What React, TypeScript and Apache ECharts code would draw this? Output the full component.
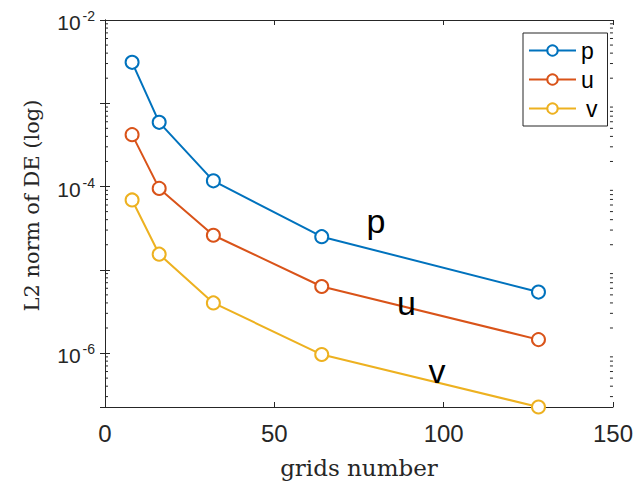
import React, { useEffect, useRef } from "react";
import * as echarts from "echarts";

// Grid sizes and the L2 norm of the discretisation error for each field
const gridSizes = [8, 16, 32, 64, 128];
const pError = [3.1e-3, 5.9e-4, 1.17e-4, 2.5e-5, 5.4e-6];
const uError = [4.2e-4, 9.5e-5, 2.6e-5, 6.3e-6, 1.45e-6];
const vError = [6.9e-5, 1.54e-5, 4.0e-6, 9.6e-7, 2.25e-7];

// In-plot annotations: [grid size, error level, text]
const annotations: [number, number, string][] = [
  [80, 3.87e-5, "p"],
  [89, 4.0e-6, "u"],
  [98, 6.1e-7, "v"],
];

const seriesNames = ["p", "u", "v"];
const seriesColors = ["#0072BD", "#D95319", "#EDB120"];

const X_MIN = 0;
const X_MAX = 150;
const X_STEP = 50;
const Y_MIN = 2.25e-7;
const Y_MAX = 1e-2;

const AXIS_COLOR = "#262626";
const SANS = "Liberation Sans, Arial, sans-serif";
const SERIF = "DejaVu Serif, serif";

export default function App() {
  const ref = useRef<HTMLDivElement>(null);

  useEffect(() => {
    if (!ref.current) return;
    const chart = echarts.init(ref.current, null, { renderer: "svg" });

    const yLabel = (v: number) => {
      const e = Math.log10(v);
      const r = Math.round(e);
      if (Math.abs(e - r) > 1e-6 || r % 2 !== 0) return "";
      return `{b|10}{s|${r}}`;
    };

    const valueSets = [pError, uError, vError];
    const series = valueSets.map((vals, i) => ({
      name: seriesNames[i],
      type: "line",
      data: gridSizes.map((g, j) => [g, vals[j]]),
      symbol: "emptyCircle",
      symbolSize: 13,
      showSymbol: true,
      clip: false,
      lineStyle: { color: seriesColors[i], width: 2 },
      itemStyle: { color: seriesColors[i], borderColor: seriesColors[i], borderWidth: 2 },
      markPoint: {
        symbol: "circle",
        symbolSize: 0,
        silent: true,
        data: [
          {
            coord: [annotations[i][0], annotations[i][1]],
            label: {
              show: true,
              position: "inside",
              formatter: annotations[i][2],
              fontSize: 34,
              fontFamily: SANS,
              color: "#000",
            },
          },
        ],
      },
    }));

    chart.setOption({
      animation: false,
      backgroundColor: "#fff",
      grid: { left: 105, right: 21, top: 20, bottom: 78 },
      legend: {
        data: seriesNames,
        orient: "vertical",
        left: 523,
        top: 33,
        padding: [6, 10, 6, 5],
        itemWidth: 47,
        itemHeight: 13,
        itemGap: 6,
        borderColor: AXIS_COLOR,
        borderWidth: 1,
        backgroundColor: "#fff",
        formatter: (name: string) => (name === "v" ? `{pad|${name}}` : name),
        textStyle: {
          fontSize: 23,
          fontFamily: SANS,
          color: "#000",
          rich: {
            pad: { fontSize: 23, fontFamily: SANS, color: "#000", padding: [0, 0, 0, 5] },
          },
        },
      },
      xAxis: [
        {
          type: "value",
          position: "bottom",
          min: X_MIN,
          max: X_MAX,
          interval: X_STEP,
          axisLine: { show: true, lineStyle: { color: AXIS_COLOR, width: 1 } },
          axisTick: { show: true, inside: true, length: 5, lineStyle: { color: AXIS_COLOR } },
          axisLabel: { fontSize: 24, fontFamily: SANS, color: AXIS_COLOR, margin: 14 },
          splitLine: { show: false },
          name: "grids number",
          nameLocation: "middle",
          nameGap: 49,
          nameTextStyle: { fontFamily: SERIF, fontSize: 23, color: AXIS_COLOR },
        },
        {
          type: "value",
          position: "top",
          min: X_MIN,
          max: X_MAX,
          interval: X_STEP,
          axisLine: { show: true, lineStyle: { color: AXIS_COLOR, width: 1 } },
          axisTick: { show: true, inside: true, length: 5, lineStyle: { color: AXIS_COLOR } },
          axisLabel: { show: false },
          splitLine: { show: false },
        },
      ],
      yAxis: [
        {
          type: "log",
          logBase: 10,
          position: "left",
          min: Y_MIN,
          max: Y_MAX,
          axisLine: { show: true, lineStyle: { color: AXIS_COLOR, width: 1 } },
          axisTick: { show: true, inside: true, length: 5, lineStyle: { color: AXIS_COLOR } },
          axisLabel: {
            margin: 10,
            formatter: yLabel,
            showMinLabel: false,
            rich: {
              b: { fontSize: 21, fontFamily: SANS, color: AXIS_COLOR, lineHeight: 22, padding: [5, 0, 0, 0] },
              s: { fontSize: 14, fontFamily: SANS, color: AXIS_COLOR, verticalAlign: "top", lineHeight: 22, padding: [0, 0, 0, 2] },
            },
          },
          splitLine: { show: false },
          name: "L2 norm of DE (log)",
          nameLocation: "middle",
          nameGap: 63,
          nameTextStyle: { fontFamily: SERIF, fontSize: 21, color: AXIS_COLOR, padding: [0, 0, 0, 16] },
        },
        {
          type: "log",
          logBase: 10,
          position: "right",
          min: Y_MIN,
          max: Y_MAX,
          axisLine: { show: true, lineStyle: { color: AXIS_COLOR, width: 1 } },
          axisTick: { show: true, inside: true, length: 5, lineStyle: { color: AXIS_COLOR } },
          axisLabel: { show: false },
          splitLine: { show: false },
        },
      ],
      series,
    });

    // Logarithmic minor ticks (2..9 x 10^k) on both vertical axes
    const xLeft = chart.convertToPixel({ xAxisIndex: 0 }, X_MIN) as number;
    const xRight = chart.convertToPixel({ xAxisIndex: 0 }, X_MAX) as number;
    const minor: any[] = [];
    for (let k = -7; k <= -3; k++) {
      for (let m = 2; m <= 9; m++) {
        const v = m * Math.pow(10, k);
        if (v <= Y_MIN || v >= Y_MAX) continue;
        const py = chart.convertToPixel({ yAxisIndex: 0 }, v) as number;
        minor.push(
          { type: "line", silent: true, shape: { x1: xLeft, y1: py, x2: xLeft + 3, y2: py }, style: { stroke: AXIS_COLOR, lineWidth: 1 } },
          { type: "line", silent: true, shape: { x1: xRight, y1: py, x2: xRight - 3, y2: py }, style: { stroke: AXIS_COLOR, lineWidth: 1 } }
        );
      }
    }
    chart.setOption({ graphic: minor });

    return () => chart.dispose();
  }, []);

  return <div ref={ref} style={{ width: 636, height: 485, position: "absolute", left: 0, top: 0 }} />;
}
